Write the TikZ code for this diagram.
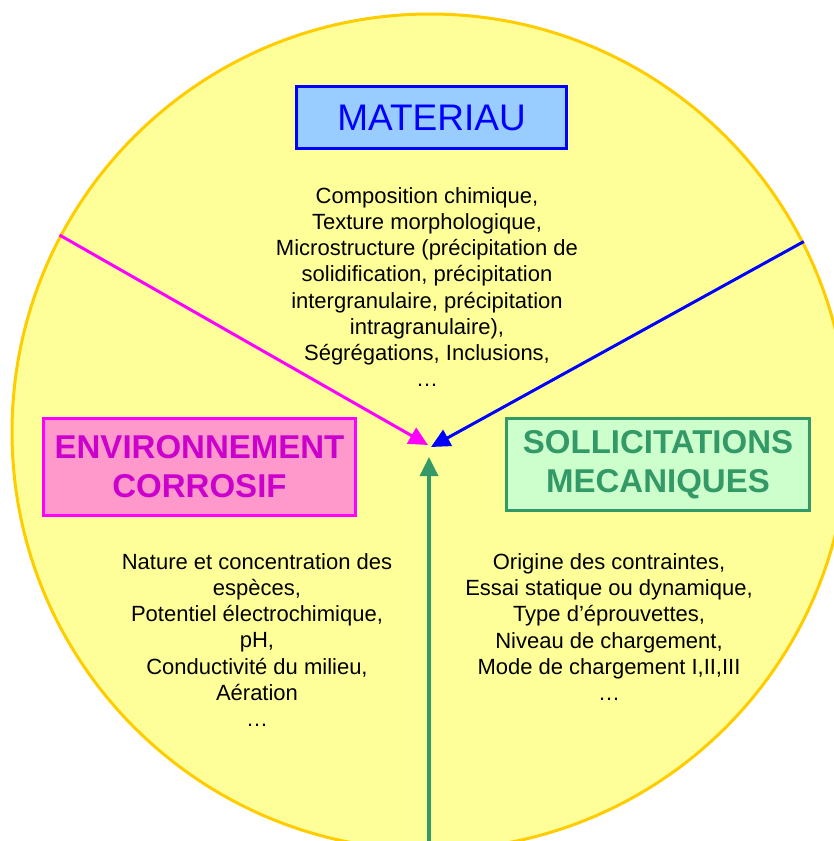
\documentclass[tikz,border=0pt]{standalone}
\usepackage{fontspec}
\setmainfont{Liberation Sans}
\usetikzlibrary{arrows.meta, positioning}
\definecolor{discFill}{RGB}{255, 255, 153}
\definecolor{discRim}{RGB}{255, 204, 0}
\definecolor{matBlue}{RGB}{0, 0, 255}
\definecolor{matFill}{RGB}{153, 204, 255}
\definecolor{envPink}{RGB}{255, 0, 255}
\definecolor{envText}{RGB}{204, 0, 204}
\definecolor{envFill}{RGB}{255, 153, 204}
\definecolor{solGreen}{RGB}{51, 153, 102}
\definecolor{solFill}{RGB}{204, 255, 204}

\begin{document}
\begin{tikzpicture}[
    x=1pt, y=-1pt,
    >={Triangle[length=19pt, width=18pt]},
    % Big yellow disc
    disc/.style={
        circle,
        draw=discRim,
        fill=discFill,
        line width=3pt,
        minimum size=836pt,
        inner sep=0pt
    },
    % Heading boxes
    heading/.style={
        rectangle,
        line width=3pt,
        align=center,
        inner sep=0pt
    },
    % Lists of factors
    factors/.style={
        align=center,
        inner sep=0pt,
        font=\fontsize{22}{26.2}\selectfont
    },
    % Arrows into the hub
    feed/.style={
        ->,
        line width=3pt
    }
]
    \useasboundingbox (0,0) rectangle (834,841);
    \clip (0,0) rectangle (834,841);

    \node (disc) [disc] at (430,432) {};

    % Headings
    \node (materiau) [heading, draw=matBlue, fill=matFill, text=matBlue,
        minimum width=270pt, minimum height=62pt,
        font=\fontsize{37}{40}\selectfont] at (431.5,117.5) {MATERIAU};
    \node (environ) [heading, draw=envPink, fill=envFill, text=envText,
        minimum width=312pt, minimum height=97pt,
        font=\fontsize{33}{39}\selectfont\bfseries] at (199.5,467) {ENVIRONNEMENT\\CORROSIF};
    \node (sollic) [heading, draw=solGreen, fill=solFill, text=solGreen,
        minimum width=303pt, minimum height=92pt,
        font=\fontsize{33}{39}\selectfont\bfseries] at (658,464.5) {SOLLICITATIONS\\MECANIQUES};

    % Factor lists
    \node (matlist) [factors] at (427,287) {Composition chimique,\\Texture morphologique,\\Microstructure (précipitation de\\solidification, précipitation\\intergranulaire, précipitation\\intragranulaire),\\Ségrégations, Inclusions,\\…};
    \node (envlist) [factors] at (257,640) {Nature et concentration des\\espèces,\\Potentiel électrochimique,\\pH,\\Conductivité du milieu,\\Aération\\…};
    \node (sollist) [factors] at (609,627) {Origine des contraintes,\\Essai statique ou dynamique,\\Type d’éprouvettes,\\Niveau de chargement,\\Mode de chargement I,II,III\\…};

    % Hub points
    \coordinate (hubenv) at (428,445);
    \coordinate (hubmat) at (431,447);
    \coordinate (hubsol) at (429,457);
    \coordinate (solfoot) at (429,845);

    % Arrows
    \draw [feed, envPink] (disc.152) -- (hubenv);
    \draw [feed, matBlue] (disc.27) -- (hubmat);
    \draw [feed, solGreen, line width=3.5pt] (solfoot) -- (hubsol);

\end{tikzpicture}
\end{document}
